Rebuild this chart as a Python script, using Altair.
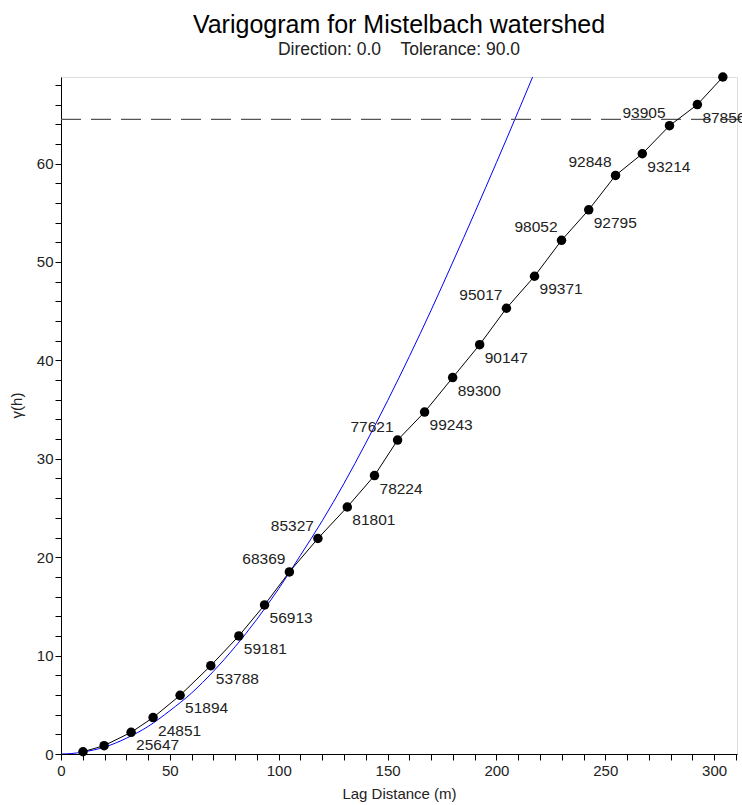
import altair as alt
import pandas as pd

lag = [10.1, 19.8, 32.2, 42.3, 54.7, 68.8, 81.7, 93.5, 104.9, 118.0, 131.5, 144.0, 154.6,
       167.0, 179.9, 192.3, 204.6, 217.5, 229.9, 242.4, 254.7, 267.0, 279.5, 292.3, 304.0]
gamma = [0.23, 0.85, 2.2, 3.7, 5.96, 8.98, 12.0, 15.15, 18.5, 21.9, 25.1, 28.3, 31.9,
         34.75, 38.25, 41.6, 45.3, 48.55, 52.2, 55.3, 58.8, 61.0, 63.85, 66.0, 68.8]
pairs = ["", "", "25647", "24851", "51894", "53788", "59181", "56913", "68369", "85327",
         "81801", "78224", "77621", "99243", "89300", "90147", "95017", "99371", "98052",
         "92795", "92848", "93214", "93905", "87856", ""]
label_pos = ["below", "below", "below", "below", "below", "below", "below", "below", "above",
             "above", "below", "below", "above", "below", "below", "below", "above", "below",
             "above", "below", "above", "below", "above", "below", "below"]

# Model curve
model_lag = [0, 5, 10, 20, 30, 40, 50, 60, 70, 80, 90, 100, 110, 120, 130, 140, 150,
             160, 170, 180, 190, 200, 210, 217]
model_gamma = [0.0, 0.05, 0.2, 0.7, 1.6, 2.8, 4.4, 6.2, 8.4, 10.9, 13.7, 16.8, 20.2, 23.7,
               27.5, 31.6, 35.9, 40.4, 45.1, 50.0, 55.0, 60.1, 65.3, 69.0]

sill = 64.5

x_ticks = list(range(0, 311, 10))
y_ticks = list(range(0, 69, 2))

FONT = "Liberation Sans"

df = pd.DataFrame({"lag": lag, "gamma": gamma, "pairs": pairs, "pos": label_pos})
mdf = pd.DataFrame({"lag": model_lag, "gamma": model_gamma})

xscale = alt.Scale(domain=[0, 310.5], nice=False, zero=False)
yscale = alt.Scale(domain=[0, 68.8], nice=False, zero=False)

xaxis = alt.Axis(values=x_ticks, labelExpr="datum.value % 50 == 0 ? datum.label : ''",
                 grid=False, domainColor="black", tickColor="black", tickSize=6,
                 labelFont=FONT, labelFontSize=15, labelColor="#222", labelPadding=3,
                 title="Lag Distance (m)", titleFont=FONT, titleFontSize=15,
                 titleFontWeight="normal", titleColor="#222", titlePadding=8,
                 labelFlush=False, labelOverlap=False)
yaxis = alt.Axis(values=y_ticks, labelExpr="datum.value % 10 == 0 ? datum.label : ''",
                 grid=False, domainColor="black", tickColor="black", tickSize=6,
                 labelFont=FONT, labelFontSize=15, labelColor="#222", labelPadding=2,
                 title="γ(h)", titleFont=FONT, titleFontSize=15, titleFontWeight="normal",
                 titleColor="#222", titlePadding=12, titleY=328,
                 labelFlush=False, labelOverlap=False)

X = alt.X("lag:Q", scale=xscale, axis=xaxis)
Y = alt.Y("gamma:Q", scale=yscale, axis=yaxis)

base = alt.Chart(df)

model = alt.Chart(mdf).mark_line(color="#0000ff", strokeWidth=1, clip=True,
                                 interpolate="monotone").encode(x=X, y=Y)

sill_rule = alt.Chart(pd.DataFrame({"s": [sill]})).mark_rule(
    color="#555555", strokeDash=[20, 10], strokeWidth=1.3).encode(
    y=alt.Y("s:Q", scale=yscale, axis=yaxis),
    x=alt.value(0), x2=alt.value(681),
)

line = base.mark_line(color="black", strokeWidth=1).encode(x=X, y=Y)

pts = base.mark_point(filled=True, color="black", size=90, opacity=1).encode(x=X, y=Y)

lab_below = base.transform_filter("datum.pos == 'below'").mark_text(
    align="left", baseline="middle", dx=5, dy=13, font=FONT, fontSize=15.5, color="#222").encode(
    x=X, y=Y, text="pairs:N")

lab_above = base.transform_filter("datum.pos == 'above'").mark_text(
    align="right", baseline="middle", dx=-4, dy=-13, font=FONT, fontSize=15.5, color="#222").encode(
    x=X, y=Y, text="pairs:N")

chart = alt.layer(model, sill_rule, line, pts, lab_below, lab_above).properties(
    width=676, height=677,
    autosize=alt.AutoSizeParams(type="none"),
    padding={"left": 61, "top": 77, "right": 5, "bottom": 51},
    title=alt.TitleParams(
        text="Varigogram for Mistelbach watershed",
        subtitle="Direction: 0.0\u00a0\u00a0\u00a0\u00a0Tolerance: 90.0",
        font=FONT, fontSize=25, fontWeight="normal", color="black",
        subtitleFont=FONT, subtitleFontSize=17.5, subtitleColor="#222",
        anchor="middle", offset=14, subtitlePadding=3),
).configure_view(stroke=None).configure_axis(labelOverlap=False).configure(background="white")

chart.save("out.html", embed_options={"renderer": "svg", "actions": False})
